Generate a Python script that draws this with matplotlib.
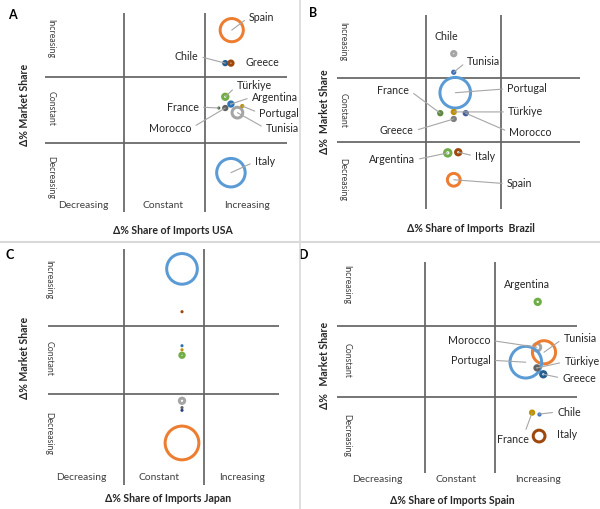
import matplotlib
matplotlib.use("Agg")
import matplotlib.pyplot as plt
import numpy as np

plt.rcParams['font.family'] = ['Lato', 'DejaVu Sans']

# ---------------- data ----------------
# positions on quadrant scale: 0-1 Decreasing, 1-2 Constant, 2-3 Increasing
a_countries = ["Spain", "Chile", "Greece", "Türkiye", "Argentina", "France", "Morocco", "Portugal", "Tunisia", "Italy"]
a_x = [2.33, 2.25, 2.32, 2.25, 2.32, 2.17, 2.25, 2.46, 2.40, 2.32]
a_y = [2.71, 2.21, 2.21, 1.70, 1.59, 1.53, 1.53, 1.56, 1.46, 0.55]
a_size = [69, 4, 5.4, 7, 5.4, 1, 4, 1.8, 19, 100]
a_colors = ["#ED7D31", "#255E91", "#9E480E", "#70AD47", "#2E75B6", "#43682B", "#636363", "#BF9000", "#A5A5A5", "#5B9BD5"]

b_countries = ["Chile", "Tunisia", "Portugal", "France", "Türkiye", "Morocco", "Greece", "Argentina", "Italy", "Spain"]
b_x = [1.37, 1.37, 1.39, 1.19, 1.37, 1.53, 1.37, 1.29, 1.43, 1.37]
b_y = [2.38, 2.09, 1.77, 1.45, 1.47, 1.45, 1.36, 0.83, 0.84, 0.41]
b_size = [5.4, 2.8, 114, 4, 4, 4, 4, 9, 7, 25]
b_colors = ["#A5A5A5", "#3F6FB5", "#5B9BD5", "#5E8A3F", "#BF9000", "#44609A", "#7F7F7F", "#70AD47", "#9E480E", "#ED7D31"]

c_countries = ["Italy", "Greece", "Chile", "Portugal", "Argentina", "Tunisia", "Morocco", "Türkiye", "Spain"]
c_x = [1.725, 1.725, 1.725, 1.725, 1.725, 1.725, 1.725, 1.725, 1.725]
c_y = [2.84, 2.21, 1.71, 1.65, 1.57, 0.90, 0.80, 0.76, 0.28]
c_size = [114, 1, 1, 1, 5.4, 7, 1, 1, 136]
c_colors = ["#5B9BD5", "#9E480E", "#2E75B6", "#BF9000", "#70AD47", "#A5A5A5", "#636363", "#264478", "#ED7D31"]

d_countries = ["Argentina", "Morocco", "Tunisia", "Portugal", "Türkiye", "Greece", "France", "Chile", "Italy"]
d_x = [2.61, 2.60, 2.70, 2.44, 2.60, 2.69, 2.53, 2.63, 2.63]
d_y = [2.34, 1.70, 1.63, 1.49, 1.41, 1.32, 0.78, 0.76, 0.45]
d_size = [7, 11, 69, 121, 5.4, 7, 4, 1.8, 22]
d_colors = ["#70AD47", "#A5A5A5", "#ED7D31", "#5B9BD5", "#636363", "#255E91", "#BF9000", "#4472C4", "#9E480E"]

categories = ["Decreasing", "Constant", "Increasing"]

# ---------------- layout ----------------
W, H = 600, 509
fig = plt.figure(figsize=(W / 100, H / 100), dpi=100)

LBL = dict(fontsize=7.7, color="#262626")
CAT = dict(fontsize=7.4, color="#404040")
SIDE = dict(fontsize=6.3, color="#404040")
TITLE = dict(fontsize=7.6, fontweight="bold", color="#262626")
GRID = dict(color="#646464", lw=1.25, solid_capstyle="butt")
LEAD = dict(arrowstyle="-", color="#A6A6A6", lw=0.8, shrinkA=1.5, shrinkB=0)


def make_panel(rect, vx, hy, vspan, hspan):
    """rect = (x0, y0, x1, y1) pixels; vx = pixel of x=1, x=2; hy = pixel of y=2, y=1."""
    x0, y0, x1, y1 = rect
    ax = fig.add_axes([x0 / W, 1 - y1 / H, (x1 - x0) / W, (y1 - y0) / H])
    sx = vx[1] - vx[0]
    sy = hy[1] - hy[0]
    xmin = 1 - (vx[0] - x0) / sx
    xmax = 2 + (x1 - vx[1]) / sx
    ymax = 2 + (hy[0] - y0) / sy
    ymin = 1 - (y1 - hy[1]) / sy
    ax.set_xlim(xmin, xmax)
    ax.set_ylim(ymin, ymax)
    ax.axis("off")
    px2x = lambda p: 1 + (p - vx[0]) / sx
    py2y = lambda p: 2 - (p - hy[0]) / sy
    for v in (1, 2):
        ax.plot([v, v], [py2y(vspan[0]), py2y(vspan[1])], **GRID, zorder=1)
        ax.plot([px2x(hspan[0]), px2x(hspan[1])], [v, v], **GRID, zorder=1)
    return ax, px2x, py2y


def bubbles(ax, xs, ys, sizes, colors):
    lw_px = 3.0
    d = 3.15 * np.sqrt(np.asarray(sizes, dtype=float))  # outer diameter in px
    small = d <= 4.5
    d_mark = np.where(small, d, np.clip(d - lw_px, 0.5, None))
    s = (d_mark * 72 / 100) ** 2
    xs = np.asarray(xs); ys = np.asarray(ys)
    cols = np.asarray(colors)
    if (~small).any():
        ax.scatter(xs[~small], ys[~small], s=s[~small], facecolors="none", edgecolors=cols[~small],
                   linewidths=lw_px * 72 / 100, zorder=3)
    if small.any():
        ax.scatter(xs[small], ys[small], s=s[small], c=cols[small], linewidths=0, zorder=3)


def labels(ax, xs, ys, names, offsets, leaders):
    for x, y, n in zip(xs, ys, names):
        dx, dy = offsets[n]
        lead = leaders.get(n, True)
        if lead:
            rel = (0, 0.5) if dx > 0 else (1, 0.5)
            if isinstance(lead, tuple):
                rel = lead
            ax.annotate(n, xy=(x, y), xytext=(dx, dy), textcoords="offset pixels",
                        ha="center", va="center", arrowprops=dict(**LEAD, relpos=rel),
                        zorder=4, **LBL)
        else:
            ax.annotate(n, xy=(x, y), xytext=(dx, dy), textcoords="offset pixels",
                        ha="center", va="center", zorder=4, **LBL)


def side_labels(ax, px2x, py2y, xpix, ypix_list):
    for lab, yp in zip(["Increasing", "Constant", "Decreasing"], ypix_list):
        ax.text(px2x(xpix), py2y(yp), lab, rotation=-90, ha="center", va="center", **SIDE)


def bottom_labels(ax, px2x, py2y, xpix_list, ypix):
    for lab, xp in zip(categories, xpix_list):
        ax.text(px2x(xp), py2y(ypix), lab, ha="center", va="center", **CAT)


# ---- Panel A ----
axA, fxA, fyA = make_panel((0, 0, 300, 241), (124, 205), (77, 143), (13, 212), (45, 287))
bubbles(axA, a_x, a_y, a_size, a_colors)
offA = {"Spain": (30, 13), "Chile": (-39, 7), "Greece": (31, 1), "Türkiye": (29, 11),
        "Argentina": (44, 7), "France": (-36, 1), "Morocco": (-55, -20), "Portugal": (37, -7),
        "Tunisia": (45, -16), "Italy": (34, 11)}
labels(axA, a_x, a_y, a_countries, offA, {"Greece": False})
side_labels(axA, fxA, fyA, 51, [39, 108, 177])
bottom_labels(axA, fxA, fyA, [83, 163, 247], 206)
axA.text(fxA(173), fyA(230), "Δ% Share of Imports USA", ha="center", va="center", **TITLE)
axA.text(fxA(25), fyA(105), "Δ% Market Share", rotation=90, ha="center", va="center", **TITLE)
axA.text(fxA(12), fyA(15), "A", ha="center", va="center", fontsize=9, fontweight="bold", color="#000000")

# ---- Panel B ----
axB, fxB, fyB = make_panel((300, 0, 600, 241), (426, 501), (78, 142), (15, 209), (337, 580))
bubbles(axB, b_x, b_y, b_size, b_colors)
offB = {"Chile": (-7, 17), "Tunisia": (30, 11), "Portugal": (72, 4), "France": (-47, 23),
        "Türkiye": (72, 0), "Morocco": (65, -19), "Greece": (-57, -12), "Argentina": (-56, -7),
        "Italy": (27, -4), "Spain": (66, -4)}
labels(axB, b_x, b_y, b_countries, offB, {"Chile": False})
side_labels(axB, fxB, fyB, 343, [42, 110, 180])
axB.text(fxB(471), fyB(228), "Δ% Share of Imports  Brazil", ha="center", va="center", **TITLE)
axB.text(fxB(325), fyB(112), "Δ%  Market Share", rotation=90, ha="center", va="center", **TITLE)
axB.text(fxB(313), fyB(13), "B", ha="center", va="center", fontsize=9, fontweight="bold", color="#000000")

# ---- Panel C ----
axC, fxC, fyC = make_panel((0, 243, 300, 509), (124, 204), (326, 394), (249, 485), (48, 279))
bubbles(axC, c_x, c_y, c_size, c_colors)
side_labels(axC, fxC, fyC, 49, [280, 358, 433])
bottom_labels(axC, fxC, fyC, [81, 159, 242], 477)
axC.text(fxC(168), fyC(498), "Δ% Share of Imports Japan", ha="center", va="center", **TITLE)
axC.text(fxC(25), fyC(358), "Δ% Market Share", rotation=90, ha="center", va="center", **TITLE)
axC.text(fxC(10), fyC(255), "C", ha="center", va="center", fontsize=9, fontweight="bold", color="#000000")

# ---- Panel D ----
axD, fxD, fyD = make_panel((300, 243, 600, 509), (425, 495), (326, 397), (262, 473), (337, 577))
bubbles(axD, d_x, d_y, d_size, d_colors)
offD = {"Argentina": (-11, 17), "Morocco": (-68, 7), "Tunisia": (36, 14), "Portugal": (-55, 2),
        "Türkiye": (45, 6), "Greece": (36, -4), "France": (-19, -27), "Chile": (30, 2),
        "Italy": (28, 2)}
labels(axD, d_x, d_y, d_countries, offD, {"Argentina": False, "Italy": False, "France": (0.85, 1.0)})
side_labels(axD, fxD, fyD, 347, [285, 360, 435])
bottom_labels(axD, fxD, fyD, [377, 456, 538], 479)
axD.text(fxD(452), fyD(500), "Δ% Share of Imports Spain", ha="center", va="center", **TITLE)
axD.text(fxD(325), fyD(365), "Δ%   Market Share", rotation=90, ha="center", va="center", **TITLE)
axD.text(fxD(304), fyD(255), "D", ha="center", va="center", fontsize=9, fontweight="bold", color="#000000")

# separators between panels
fig.add_artist(plt.Line2D([0, 1], [1 - 241.5 / H, 1 - 241.5 / H], transform=fig.transFigure,
                          color="#D9D9D9", lw=1.5))
fig.add_artist(plt.Line2D([300 / W, 300 / W], [0, 1], transform=fig.transFigure,
                          color="#D9D9D9", lw=1.2))

fig.savefig("out.png", dpi=100, facecolor="white")
